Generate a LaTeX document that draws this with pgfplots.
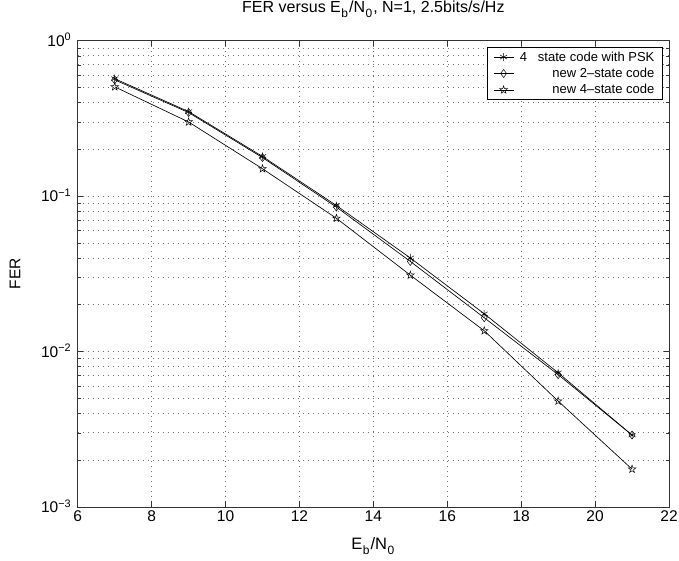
\documentclass[border=0pt]{standalone}
\usepackage{pgfplots}
\pgfplotsset{compat=1.18}
\usepackage{fontspec}
\setmainfont{Liberation Sans}
\usetikzlibrary{plotmarks}
% MATLAB-like open pentagram
\pgfdeclareplotmark{pentagram}{%
  \pgfpathmoveto{\pgfpointpolar{90}{\pgfplotmarksize}}%
  \pgfpathlineto{\pgfpointpolar{126}{0.40*\pgfplotmarksize}}%
  \pgfpathlineto{\pgfpointpolar{162}{\pgfplotmarksize}}%
  \pgfpathlineto{\pgfpointpolar{198}{0.40*\pgfplotmarksize}}%
  \pgfpathlineto{\pgfpointpolar{234}{\pgfplotmarksize}}%
  \pgfpathlineto{\pgfpointpolar{270}{0.40*\pgfplotmarksize}}%
  \pgfpathlineto{\pgfpointpolar{306}{\pgfplotmarksize}}%
  \pgfpathlineto{\pgfpointpolar{342}{0.40*\pgfplotmarksize}}%
  \pgfpathlineto{\pgfpointpolar{18}{\pgfplotmarksize}}%
  \pgfpathlineto{\pgfpointpolar{54}{0.40*\pgfplotmarksize}}%
  \pgfpathclose\pgfusepathqstroke}
\newcommand\sub[1]{\kern0.5pt\raisebox{-5pt}{\fontsize{12}{12}\selectfont#1}\kern1pt}
\begin{document}
\begin{tikzpicture}[font=\fontsize{15.5}{17}\selectfont]
\begin{axis}[scale only axis,width=591pt,height=466pt,
 ymode=log,xmin=6,xmax=22,ymin=1e-3,ymax=1,
 xtick={6,8,...,22},ytick={1e-3,1e-2,1e-1,1},
 yticklabels={10\textsuperscript{−3},10\textsuperscript{−2},10\textsuperscript{−1},10\textsuperscript{0}},
 /pgf/number format/assume math mode=true,
 yticklabel style={anchor=base east,yshift=-5.5pt,xshift=-3pt},
 tick align=inside,major tick length=5.5pt,minor tick length=3pt,
 tick style={black!80,line width=0.5pt},
 xmajorgrids,ymajorgrids,yminorgrids,
 grid style={dash pattern=on 1pt off 4pt,black!55,line width=0.6pt},
 minor grid style={dash pattern=on 1pt off 4pt,black!55,line width=0.6pt},
 axis line style={black!80,line width=0.7pt},
 title={FER versus E\sub{b}/N\sub{0}, N=1, 2.5bits/s/Hz},
 title style={font=\fontsize{16}{18}\selectfont,at={(axis description cs:0.5,1)},anchor=base,yshift=22pt,inner sep=0pt},
 xlabel={E\sub{b}/N\sub{0}},
 xlabel style={font=\fontsize{16.5}{18}\selectfont,at={(axis description cs:0.5,0)},anchor=base,yshift=-42.5pt,inner sep=0pt},
 ylabel={FER},
 ylabel style={at={(axis description cs:-0.106,0.5)},anchor=center},
 legend style={at={(rel axis cs:1,1)},xshift=-6.3pt,yshift=-6.6pt,anchor=north east,
   draw=black,line width=0.6pt,font=\fontsize{13}{15}\selectfont,
   inner xsep=6pt,inner ysep=2pt,row sep=1.5pt,column sep=4pt},
 legend cell align=right,
 legend image code/.code={\draw[mark repeat=2,mark phase=2,#1]
   plot coordinates {(0pt,0pt)(10pt,0pt)(20pt,0pt)};},
 every axis plot/.append style={black,line width=0.65pt,mark size=4pt,
   mark options={solid,line width=0.5pt,fill=none}}]
\addplot[black,mark=asterisk] coordinates {(7,0.57)(9,0.35)(11,0.180)(13,0.087)(15,0.040)(17,0.0175)(19,0.0073)(21,0.0029)};
\addplot[black,mark=diamond] coordinates {(7,0.56)(9,0.345)(11,0.177)(13,0.085)(15,0.038)(17,0.0165)(19,0.0071)(21,0.0029)};
\addplot[black,mark=pentagram] coordinates {(7,0.505)(9,0.30)(11,0.150)(13,0.072)(15,0.031)(17,0.0136)(19,0.0048)(21,0.00175)};
\legend{4~~~state code with PSK,new 2--state code,new 4--state code}
\end{axis}
\pgfresetboundingbox
\path ([shift={(-77.7pt,-53.5pt)}]current axis.south west) rectangle ([shift={(10pt,40.7pt)}]current axis.north east);
\end{tikzpicture}
\end{document}
